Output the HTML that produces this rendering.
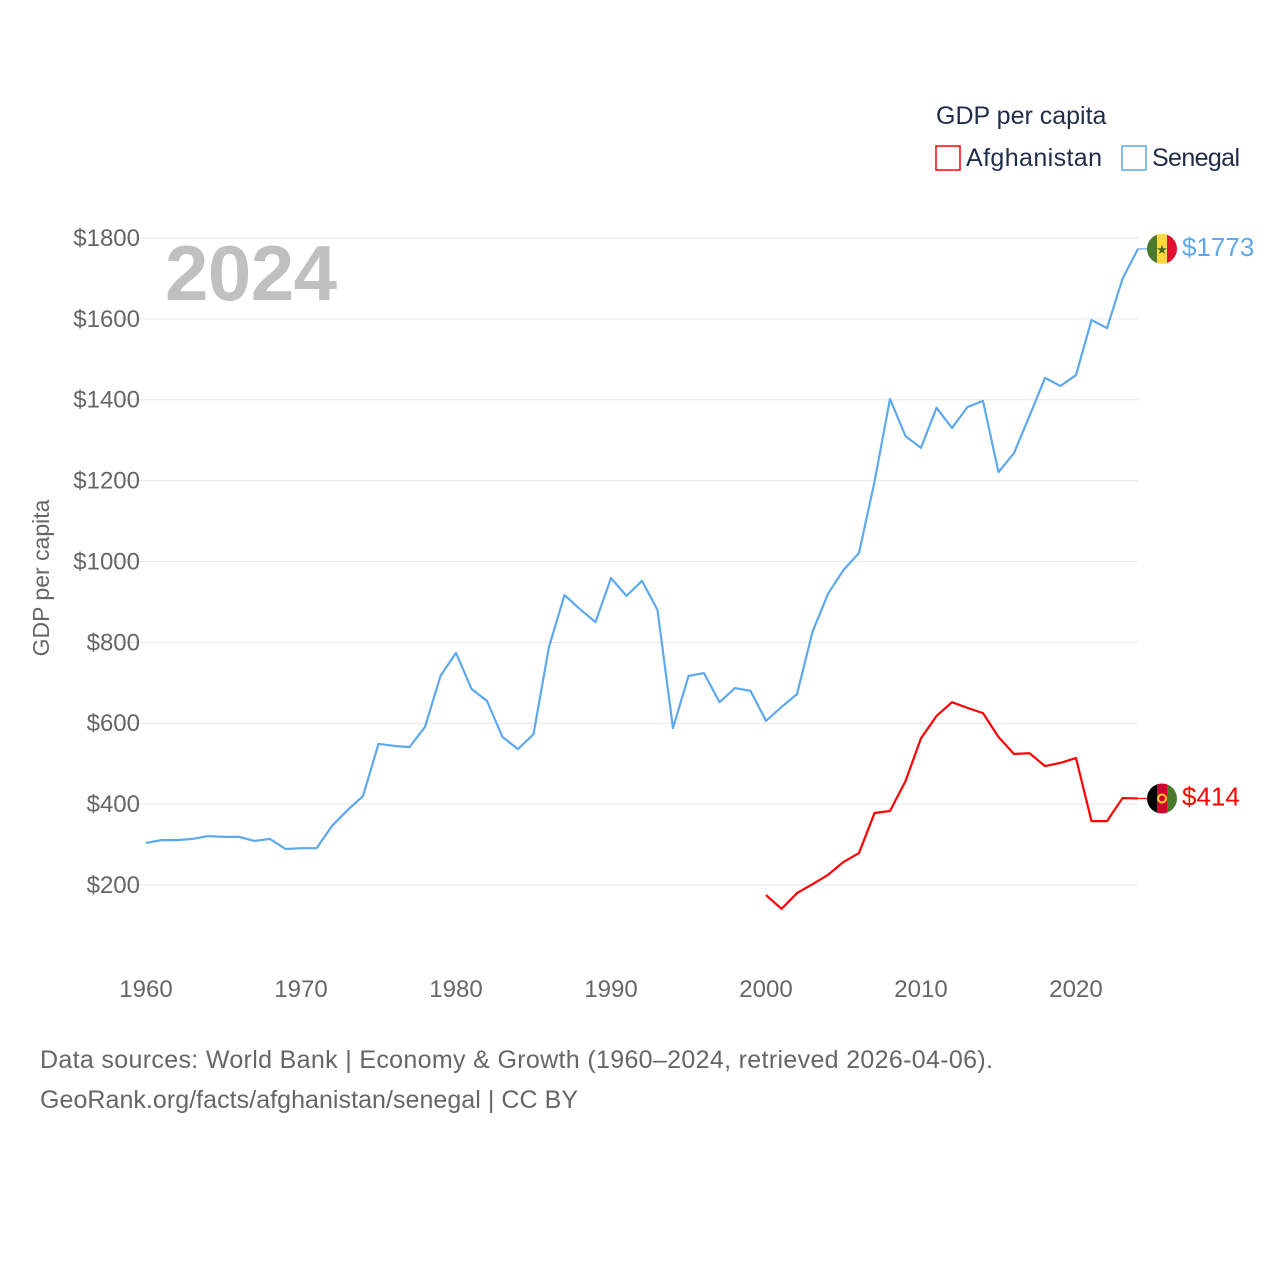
<!DOCTYPE html>
<html><head><meta charset="utf-8"><style>
body{margin:0;background:#fff;width:1280px;height:1280px;overflow:hidden;font-family:"Liberation Sans",sans-serif}
</style></head><body>
<svg width="1280" height="1280" id="svg" xmlns="http://www.w3.org/2000/svg">
<text x="936" y="124" font-size="25" fill="#1f2d4a">GDP per capita</text>
<rect x="936" y="146" width="24" height="24" fill="none" stroke="#f00" stroke-width="1.5"/>
<text x="966" y="166" font-size="25" fill="#1f2d4a" textLength="136">Afghanistan</text>
<rect x="1122" y="146" width="24" height="24" fill="none" stroke="#5ea8ee" stroke-width="1.5"/>
<text x="1152" y="166" font-size="25" fill="#1f2d4a" textLength="88">Senegal</text>
<text x="43" y="578" font-size="23" fill="#666" transform="rotate(-90 43 578)" text-anchor="middle" dominant-baseline="middle">GDP per capita</text>
<text x="165" y="300" font-size="78" font-weight="bold" fill="#c0c0c0" textLength="172">2024</text>
<g id="grid"></g><g id="series"></g>
<text x="40" y="1068" font-size="25" fill="#666" textLength="953">Data sources: World Bank | Economy &amp; Growth (1960–2024, retrieved 2026-04-06).</text>
<text x="40" y="1108" font-size="25" fill="#666" textLength="538">GeoRank.org/facts/afghanistan/senegal | CC BY</text>
</svg>
<script>
const yTicks=[200,400,600,800,1000,1200,1400,1600,1800];
const xTicks=[1960,1970,1980,1990,2000,2010,2020];
const senegalStart=1960;
const senegal=[304,311,311,314,321,319,319,309,314,289,291,291,346,385,420,549,544,541,591,717,774,685,655,566,536,573,789,917,882,850,959,915,952,880,588,717,724,652,687,680,606,640,672,826,920,979,1021,1197,1402,1310,1281,1380,1330,1382,1397,1221,1268,1360,1454,1434,1461,1597,1577,1699,1773];
const afghanStart=2000;
const afghanistan=[175,141,180,202,225,257,279,378,383,457,563,618,652,638,625,566,524,526,494,502,514,358,358,415,414];
const NS="http://www.w3.org/2000/svg";
const X=yr=>146+(yr-1960)*15.5;
const Y=v=>885-(v-200)*0.4044;
const svg=document.getElementById('svg'),grid=document.getElementById('grid'),ser=document.getElementById('series');
function mk(tag,attrs,parent){const e=document.createElementNS(NS,tag);for(const k in attrs)e.setAttribute(k,attrs[k]);parent.appendChild(e);return e;}
yTicks.forEach(v=>{
 const l=mk('line',{x1:120,x2:1138,y1:Y(v),y2:Y(v),stroke:'#e6e6e6','stroke-width':1},grid);
 
 
 const t=mk('text',{x:140,y:Y(v)+8,'font-size':24,fill:'#666','text-anchor':'end'},grid);
 t.textContent='$'+v;
 
 
});
xTicks.forEach(yr=>{
 const t=mk('text',{x:X(yr),y:997,'font-size':24,fill:'#666','text-anchor':'middle'},grid);
 t.textContent=yr;
 
 
});
function drawSeries(data,start,color,name,flag){
 const pts=data.map((v,i)=>X(start+i)+','+Y(v)).join(' ');
 const p=mk('polyline',{points:pts,fill:'none',stroke:color,'stroke-width':2.2,'stroke-linejoin':'round'},ser);
 
 
 const last=data[data.length-1],lx=X(start+data.length-1),ly=Y(last);
 mk('line',{x1:lx,x2:1150,y1:ly,y2:ly,stroke:color,'stroke-width':1.2},ser);
 const g=mk('g',{},ser);
 
 
 const cx=1162,r=15;
 const cp=mk('clipPath',{id:'c'+name},g);
 mk('circle',{cx:cx,cy:ly,r:r},cp);
 const gc=mk('g',{'clip-path':'url(#c'+name+')'},g);
 flag.forEach((c,i)=>mk('rect',{x:cx-r+i*10,y:ly-r,width:10.2,height:30,fill:c},gc));
 if(name==='senegal'){const s=mk('text',{x:cx,y:ly+5,'font-size':13,fill:'#3f6b2a','text-anchor':'middle'},g);s.textContent='★';}
 else mk('circle',{cx:cx,cy:ly,r:4,fill:'none',stroke:'#f7d02b','stroke-width':2},g);
 const t=mk('text',{x:1182,y:ly+7,'font-size':26,fill:color},ser);
 t.textContent='$'+last;
 
 
}
drawSeries(senegal,senegalStart,'#5ea8ee','senegal',['#4b7a2c','#fcd93f','#e0102f']);
drawSeries(afghanistan,afghanStart,'#f00','afghanistan',['#000','#d3002d','#4b7a2c']);
</script>
</body></html>
